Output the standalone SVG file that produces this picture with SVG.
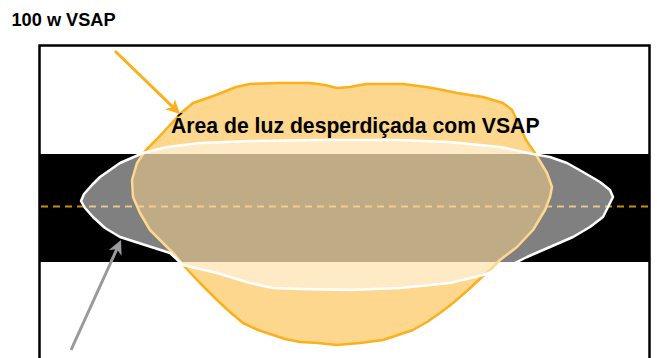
<svg xmlns="http://www.w3.org/2000/svg" width="657" height="358" viewBox="0 0 657 358">
<style>
.t{font-family:"Liberation Sans",Arial,Helvetica,sans-serif;font-weight:bold;fill:#000}
.orange{fill:#fbb01c;fill-opacity:0.5;stroke:#fbb01c;stroke-width:2.5;stroke-linejoin:round}
.vsap{fill:#fff;fill-opacity:0.5;stroke:#fff;stroke-width:2.5;stroke-linejoin:round}
.axis{stroke:#fbb01c;stroke-opacity:0.8;stroke-width:2;stroke-dasharray:7 5;fill:none}
</style>
<defs>
<marker id="ahO" markerUnits="userSpaceOnUse" markerWidth="20" markerHeight="20" viewBox="-10 -10 20 20" refX="0" refY="0" orient="auto">
<path d="M7,0 L-7,-7 L-3,0 L-7,7 Z" fill="#fbb01c"/>
</marker>
<marker id="ahG" markerUnits="userSpaceOnUse" markerWidth="20" markerHeight="20" viewBox="-10 -10 20 20" refX="0" refY="0" orient="auto">
<path d="M7,0 L-7,-7 L-3,0 L-7,7 Z" fill="#9a9a9e"/>
</marker>
</defs>
<rect x="0" y="0" width="657" height="358" fill="#fff"/>
<text class="t" x="11.5" y="26" font-size="18.2">100 w VSAP</text>
<g id="frame">
<rect x="39.5" y="45.5" width="610" height="340" fill="#fff" stroke="#000" stroke-width="2.5"/>
<rect x="39" y="154" width="611" height="108" fill="#000"/>
<line class="axis" x1="41" y1="206.5" x2="649" y2="206.5"/>
</g>
<g id="hps-area">
<path class="orange" d="M146,150 L156,140 L170,125 L181,113 L193,103 L216,95 L236,87 L250,84 L280,83 L310,83 L325,85 L337,88 L350,87 L366,84 L385,84 L403,84 L426,87 L443,90 L457,93 L483,97 L503,103 L512,110 L517,120 L526,140 L535,153 L547,173 L552,187 L550,197 L545,210 L533,230 L517,247 L500,260 L490,270 L483,276 L468,290 L453,303 L440,313 L427,322 L413,330 L398,335 L383,340 L360,343 L337,345 L318,343 L300,342 L285,339 L273,335 L258,330 L243,323 L230,312 L217,300 L200,283 L183,265 L175,255 L167,247 L150,230 L140,213 L133,197 L132,180 L137,163 Z"/>
</g>
<g id="vsap-area">
<path class="vsap" d="M200,143 L250,141 L317,140 L400,140 L450,142 L500,147 L533,154 L550,157 L567,163 L583,172 L600,182 L610,190 L613,197 L608,207 L603,217 L590,227 L573,237 L550,247 L527,257 L507,267 L483,275 L450,283 L400,288 L350,290 L300,289 L273,288 L250,283 L217,273 L183,265 L170,253 L145,245 L120,237 L105,228 L93,217 L85,208 L81,201 L84,194 L92,185 L100,177 L120,163 L143,153 L167,147 Z"/>
</g>
<g id="label">
<text class="t" x="171" y="133" font-size="21.2">Área de luz desperdiçada com VSAP</text>
</g>
<g id="connectors">
<line x1="115" y1="51" x2="175" y2="109.1" stroke="#fbb01c" stroke-width="3" marker-end="url(#ahO)"/>
<line x1="71" y1="350" x2="118.1" y2="246.4" stroke="#9a9a9e" stroke-width="3" marker-end="url(#ahG)"/>
</g>
</svg>
